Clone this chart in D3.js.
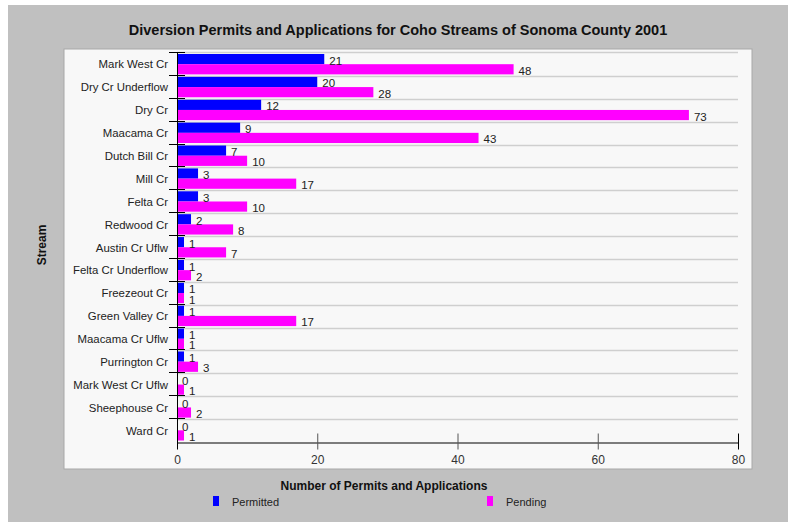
<!DOCTYPE html>
<html>
<head>
<meta charset="utf-8">
<script src="https://cdn.jsdelivr.net/npm/d3@7"></script>
<style>
  body { margin: 0; background: #ffffff; }
  svg { display: block; font-family: "Liberation Sans", Arial, sans-serif; }
</style>
</head>
<body>
<div id="chart"></div>
<script>
// ========================================
// Data
// ========================================
const streams = [
  'Mark West Cr', 'Dry Cr Underflow', 'Dry Cr', 'Maacama Cr', 'Dutch Bill Cr',
  'Mill Cr', 'Felta Cr', 'Redwood Cr', 'Austin Cr Uflw', 'Felta Cr Underflow',
  'Freezeout Cr', 'Green Valley Cr', 'Maacama Cr Uflw', 'Purrington Cr',
  'Mark West Cr Uflw', 'Sheephouse Cr', 'Ward Cr'
];
const permitted = [21, 20, 12, 9, 7, 3, 3, 2, 1, 1, 1, 1, 1, 1, 0, 0, 0];
const pending   = [48, 28, 73, 43, 10, 17, 10, 8, 7, 2, 1, 17, 1, 3, 1, 2, 1];
const seriesNames = ['Permitted', 'Pending'];
const seriesColors = ['#0000ff', '#ff00ff'];
const xTicks = [0, 20, 40, 60, 80];

// ========================================
// Dimensions
// ========================================
const
  width = 788,
  height = 522,
  plotLeft = 177,
  plotRight = 738,
  plotTop = 53,
  plotBottom = 442;

const svg = d3.select('#chart')
  .append('svg')
    .attr('width', width)
    .attr('height', height);

// grey background and light panel
svg.append('rect')
  .attr('x', 8).attr('y', 5)
  .attr('width', width - 8).attr('height', height - 5)
  .attr('fill', '#c0c0c0');

svg.append('rect')
  .attr('x', 64).attr('y', 49)
  .attr('width', 688).attr('height', 420)
  .attr('fill', '#f8f8f8')
  .attr('stroke', '#a8a8a8')
  .attr('stroke-width', 1);

// title
svg.append('text')
  .attr('x', 398)
  .attr('y', 35)
  .attr('text-anchor', 'middle')
  .attr('font-size', '14.5px')
  .attr('font-weight', 'bold')
  .attr('fill', '#111')
  .text('Diversion Permits and Applications for Coho Streams of Sonoma County 2001');

// ========================================
// Scales
// ========================================
const xScale = d3.scaleLinear().domain([0, 80]).range([plotLeft, plotRight]);
const yScale = d3.scaleBand().domain(streams).range([plotTop, plotBottom]).padding(0);
const subScale = d3.scaleBand().domain(seriesNames).range([1, yScale.bandwidth() - 1.5]).padding(0);

// horizontal grid lines at row boundaries
svg.append('g')
  .selectAll('line')
  .data(streams.slice(1))
  .enter()
  .append('line')
    .attr('x1', plotLeft)
    .attr('x2', plotRight)
    .attr('y1', d => Math.round(yScale(d)) + 0.5)
    .attr('y2', d => Math.round(yScale(d)) + 0.5)
    .attr('stroke', '#cfcfcf')
    .attr('stroke-width', 1.5);

svg.append('line')
  .attr('x1', plotLeft).attr('x2', plotRight)
  .attr('y1', plotTop - 0.5).attr('y2', plotTop - 0.5)
  .attr('stroke', '#cfcfcf')
  .attr('stroke-width', 1.5);

// ========================================
// Bars and value labels
// ========================================
const rows = streams.map((s, i) => ({ stream: s, values: [permitted[i], pending[i]] }));

const groups = svg.append('g')
  .selectAll('g')
  .data(rows)
  .enter()
  .append('g')
    .attr('transform', d => 'translate(0,' + yScale(d.stream) + ')');

groups.selectAll('rect')
  .data(d => d.values.map((v, k) => ({ series: seriesNames[k], value: v, k: k })))
  .enter()
  .append('rect')
    .attr('x', xScale(0))
    .attr('y', d => subScale(d.series))
    .attr('width', d => xScale(d.value) - xScale(0))
    .attr('height', subScale.bandwidth())
    .attr('fill', d => seriesColors[d.k]);

groups.selectAll('text')
  .data(d => d.values.map((v, k) => ({ series: seriesNames[k], value: v })))
  .enter()
  .append('text')
    .attr('x', d => xScale(d.value) + 5)
    .attr('y', d => subScale(d.series) + subScale.bandwidth() / 2 + 5.5)
    .attr('font-size', '11.5px')
    .attr('fill', '#222')
    .text(d => d.value);

// ========================================
// Axes
// ========================================
// Y axis line with boundary ticks
svg.append('line')
  .attr('x1', plotLeft + 0.5).attr('x2', plotLeft + 0.5)
  .attr('y1', plotTop - 1).attr('y2', plotBottom)
  .attr('stroke', '#000');

svg.append('g')
  .selectAll('line')
  .data(streams)
  .enter()
  .append('line')
    .attr('x1', plotLeft - 8)
    .attr('x2', plotLeft + 8)
    .attr('y1', d => Math.round(yScale(d)) - 0.5)
    .attr('y2', d => Math.round(yScale(d)) - 0.5)
    .attr('stroke', '#000');

svg.append('g')
  .selectAll('text')
  .data(streams)
  .enter()
  .append('text')
    .attr('x', plotLeft - 9)
    .attr('y', d => yScale(d) + yScale.bandwidth() / 2 + 4)
    .attr('text-anchor', 'end')
    .attr('font-size', '11.4px')
    .attr('fill', '#222')
    .text(d => d);

// X axis
const xAxis = svg.append('g')
  .attr('transform', 'translate(0,' + (plotBottom + 0.5) + ')')
  .call(d3.axisBottom(xScale).tickValues(xTicks).tickSize(0).tickPadding(13));

xAxis.select('.domain').attr('stroke', '#000');
xAxis.selectAll('.tick line').remove();
xAxis.selectAll('.tick')
  .append('line')
    .attr('y1', -9)
    .attr('y2', 7)
    .attr('stroke', (d, i) => (i === 0 || i === xTicks.length - 1) ? '#000' : '#555');
xAxis.selectAll('text')
  .attr('font-size', '12px')
  .attr('font-family', '"Liberation Sans", Arial, sans-serif')
  .attr('fill', '#333');

// axis titles
svg.append('text')
  .attr('x', 384)
  .attr('y', 490)
  .attr('text-anchor', 'middle')
  .attr('font-size', '12px')
  .attr('font-weight', 'bold')
  .attr('fill', '#111')
  .text('Number of Permits and Applications');

svg.append('text')
  .attr('transform', 'translate(46,245) rotate(-90)')
  .attr('text-anchor', 'middle')
  .attr('font-size', '12px')
  .attr('font-weight', 'bold')
  .attr('fill', '#111')
  .text('Stream');

// ========================================
// Legend
// ========================================
const legendX = [213, 487];
const legend = svg.append('g')
  .selectAll('g')
  .data(seriesNames)
  .enter()
  .append('g')
    .attr('transform', (d, i) => 'translate(' + legendX[i] + ',496)');

legend.append('rect')
  .attr('width', 6)
  .attr('height', 10)
  .attr('fill', (d, i) => seriesColors[i]);

legend.append('text')
  .attr('x', 19)
  .attr('y', 10)
  .attr('font-size', '11px')
  .attr('fill', '#222')
  .text(d => d);
</script>
</body>
</html>
